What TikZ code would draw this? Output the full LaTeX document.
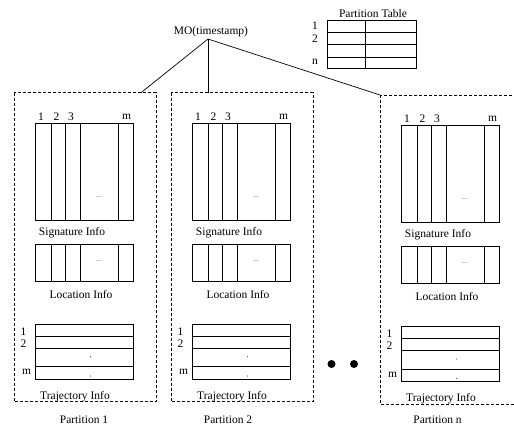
\documentclass[tikz,border=0pt]{standalone}
\usepackage{fontspec}
\setmainfont{Liberation Serif}
\begin{document}
\begin{tikzpicture}[x=1pt,y=-1pt,
  every node/.style={inner sep=0pt,font=\fontsize{11.5}{13}\selectfont},
  tline/.style={line width=0.7pt},
  dashbox/.style={line width=0.7pt,dash pattern=on 3pt off 2pt},
  pics/partition/.style={code={
    \draw[dashbox] (0,0) rectangle (142,309);
    % signature table
    \draw[tline] (21.7,30.6) rectangle (119.3,127.3);
    \foreach \c in {15.3,30,45,82.6}{\draw[tline] (21.7+\c,30.6) -- (21.7+\c,127.3);}
    \node (c1) at (27,24) {1};
    \node (c2) at (42.5,24) {2};
    \node (c3) at (57,24) {3};
    \node (cm) at (112.5,24) {m};
    \node[text=black!60] (sd) at (85,104) {\footnotesize ...};
    \node (si) at (58,139.5) {Signature Info};
    % location table
    \draw[tline] (21.7,151.5) rectangle (119.3,188.5);
    \foreach \c in {15.3,30,45,82.6}{\draw[tline] (21.7+\c,151.5) -- (21.7+\c,188.5);}
    \node[text=black!60] (ld) at (85,168) {\footnotesize ...};
    \node (li) at (67,201.5) {Location Info};
    % trajectory table
    \draw[tline] (21.7,231.3) rectangle (119.3,286.3);
    \foreach \r in {243.3,255.6,274}{\draw[tline] (21.7,\r) -- (119.3,\r);}
    \node (r1) at (9.5,238.5) {1};
    \node (r2) at (9.5,251) {2};
    \node (rm) at (12.7,279.5) {m};
    \fill (76.7,264) circle (0.5);
    \fill (76.7,283.3) circle (0.5);
    \node (ti) at (61,303.5) {Trajectory Info};
  }}]
\useasboundingbox (0,0) rectangle (514,431);
\clip (0,0) rectangle (514,431);
% MO
\node (mo) at (211,32) {MO(timestamp)};
\coordinate (apex) at (208,39);
% partition table
\node (pt) at (373,14) {Partition Table};
\draw[tline] (327.7,20) rectangle (416.7,68);
\foreach \r in {32,44,57}{\draw[tline] (327.7,\r) -- (416.7,\r);}
\draw[tline] (365,20) -- (365,68);
\node (pt1) at (315,26) {1};
\node (pt2) at (315,39) {2};
\node (ptn) at (315,62) {n};
% partitions
\pic (pa) at (14,92.7) {partition};
\pic (pb) at (171,92.7) {partition};
\pic (pc) at (380,95) {partition};
\coordinate (t1) at (141,92.7);
\coordinate (t2) at (208,92.7);
\coordinate (t3) at (380,95);
\draw[tline] (apex) -- (t1);
\draw[tline] (apex) -- (t2);
\draw[tline] (apex) -- (t3);
% dots
\fill (331.5,364) circle (4);
\fill (354,364) circle (4);
% labels
\node (p1) at (84,420) {Partition 1};
\node (p2) at (228,420) {Partition 2};
\node (pn) at (437.5,420) {Partition n};
\end{tikzpicture}
\end{document}
